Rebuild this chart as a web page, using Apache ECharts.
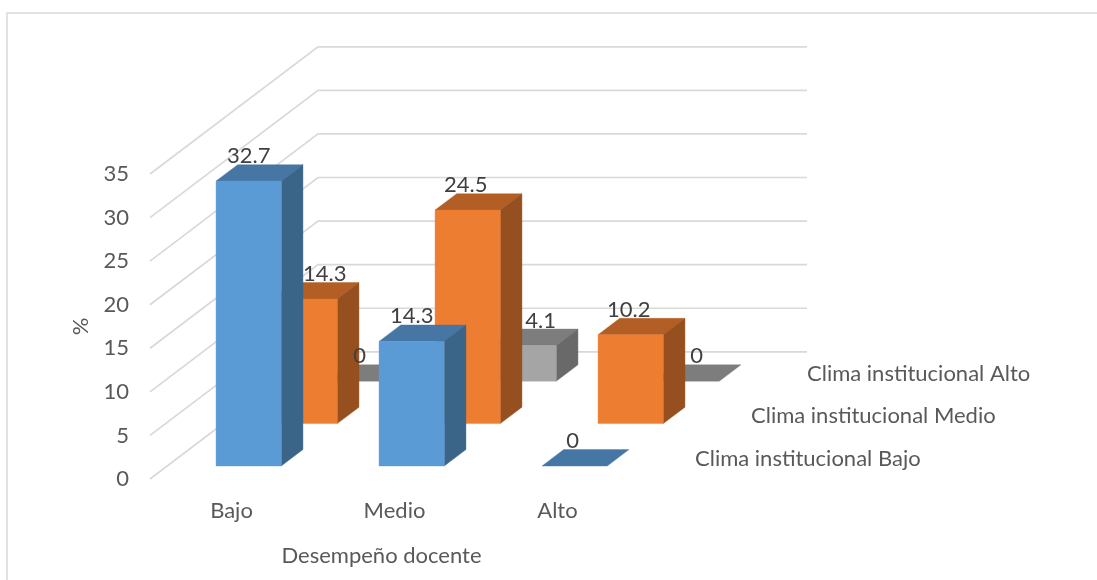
<!DOCTYPE html>
<html>
<head>
<meta charset="utf-8">
<style>html,body{margin:0;padding:0;background:#fff}#c{width:1097px;height:580px}</style>
<script src="https://cdn.jsdelivr.net/npm/echarts@6/dist/echarts.min.js"></script>
</head>
<body>
<div id="c"></div>
<script>
const categories = ['Bajo', 'Medio', 'Alto'];
const climaBajo = [32.7, 14.3, 0];
const climaMedio = [14.3, 24.5, 10.2];
const climaAlto = [0, 4.1, 0];
const depthNames = ['Clima institucional Bajo', 'Clima institucional Medio', 'Clima institucional Alto'];
const yTicks = [0, 5, 10, 15, 20, 25, 30, 35];

// Layout and style
const FONT = 'Lato';
const FS = 22;
const SLOT_DX = 56, SLOT_DY = 42.4, BAR_DEPTH = 21.7, BAR_RISE = 16.4;
const GAP_DX = (SLOT_DX - BAR_DEPTH) / 2, GAP_DY = (SLOT_DY - BAR_RISE) / 2;
const labelShift = [[0, 0, -2], [20, -2, -2], [-1, 17, 10]];
const palette = [
  {front: '#5B9BD5', top: '#4676A3', side: '#3A6589'},
  {front: '#ED7D31', top: '#B25E25', side: '#964F1E'},
  {front: '#A5A5A5', top: '#7D7D7D', side: '#696969'}
];

function polygon(points, fill) {
  return {type: 'polygon', shape: {points}, style: {fill, stroke: fill, lineWidth: 0.4}};
}
function barFrame(api, cat, value, slot) {
  const base = api.coord([cat, 0]);
  const top = api.coord([cat, value]);
  const band = api.size([1, 0])[0];
  const w = band * 0.4;
  const dx = GAP_DX + SLOT_DX * slot, dy = GAP_DY + SLOT_DY * slot;
  return {x0: base[0] - w / 2 + dx, x1: base[0] + w / 2 + dx, yb: base[1] - dy, yt: top[1] - dy};
}
function barSeries(name, values, slot) {
  return {
    type: 'custom', name, z: 3, silent: true,
    data: values.map((v, i) => [i, v]),
    encode: {x: 0, y: 1},
    renderItem(params, api) {
      const f = barFrame(api, api.value(0), api.value(1), slot);
      const c = palette[slot];
      const children = [
        polygon([[f.x0, f.yt], [f.x0 + BAR_DEPTH, f.yt - BAR_RISE], [f.x1 + BAR_DEPTH, f.yt - BAR_RISE], [f.x1, f.yt]], c.top)
      ];
      if (f.yb - f.yt > 0.5) {
        children.push(polygon([[f.x1, f.yt], [f.x1 + BAR_DEPTH, f.yt - BAR_RISE], [f.x1 + BAR_DEPTH, f.yb - BAR_RISE], [f.x1, f.yb]], c.side));
        children.push(polygon([[f.x0, f.yt], [f.x1, f.yt], [f.x1, f.yb], [f.x0, f.yb]], c.front));
      }
      return {type: 'group', children};
    }
  };
}

const seriesValues = [climaBajo, climaMedio, climaAlto];

const wallSeries = {
  type: 'custom', name: 'walls', z: 1, silent: true,
  data: yTicks.map(v => [0, v]),
  encode: {y: 1},
  renderItem(params, api) {
    const cs = params.coordSys;
    const y = api.coord([0, api.value(1)])[1];
    const dx = SLOT_DX * 3, dy = SLOT_DY * 3;
    return {
      type: 'polyline',
      shape: {points: [[cs.x, y], [cs.x + dx, y - dy], [cs.x + cs.width + dx, y - dy]]},
      style: {fill: 'none', stroke: '#D9D9D9', lineWidth: 1.7}
    };
  }
};

const labelSeries = {
  type: 'custom', name: 'value labels', z: 5, silent: true,
  data: seriesValues.flatMap((vals, s) => vals.map((v, c) => [c, v, s])),
  encode: {x: 0, y: 1},
  renderItem(params, api) {
    const cat = api.value(0), v = api.value(1), s = api.value(2);
    const f = barFrame(api, cat, v, s);
    return {
      type: 'text',
      style: {
        text: String(v), x: (f.x0 + f.x1) / 2 + labelShift[s][cat], y: f.yt - 25,
        align: 'center', verticalAlign: 'middle',
        fill: '#404040', font: FS + 'px ' + FONT
      }
    };
  }
};

const depthSeries = {
  type: 'custom', name: 'depth axis', z: 5, silent: true,
  data: depthNames.map((n, i) => [i, 0]),
  encode: {y: 1},
  renderItem(params, api) {
    const cs = params.coordSys;
    const i = api.value(0);
    const y0 = api.coord([0, 0])[1];
    return {
      type: 'text',
      style: {
        text: depthNames[i], x: cs.x + cs.width + SLOT_DX * (i + 1), y: y0 - SLOT_DY * (i + 0.5) + 1,
        align: 'left', verticalAlign: 'middle',
        fill: '#595959', font: FS + 'px ' + FONT
      }
    };
  }
};

const chart = echarts.init(document.getElementById('c'), null, {renderer: 'canvas'});
chart.setOption({
  animation: false,
  backgroundColor: '#fff',
  textStyle: {fontFamily: FONT},
  grid: {left: 150, top: 174, width: 489, height: 305, containLabel: false},
  graphic: [{
    type: 'polyline', silent: true, z: 0,
    shape: {points: [[7, 585], [7, 13], [1097, 13]]},
    style: {fill: 'none', stroke: '#D9D9D9', lineWidth: 1.5}
  }],
  xAxis: {
    type: 'category', data: categories,
    axisLine: {show: false}, axisTick: {show: false}, splitLine: {show: false},
    axisLabel: {color: '#595959', fontSize: FS, fontFamily: FONT, margin: 21},
    name: 'Desempeño docente', nameLocation: 'middle', nameGap: 66,
    nameTextStyle: {color: '#595959', fontSize: FS, fontFamily: FONT, padding: [0, 26, 0, 0]}
  },
  yAxis: {
    type: 'value', min: 0, max: 35, interval: 5,
    axisLine: {show: false}, axisTick: {show: false}, splitLine: {show: false},
    axisLabel: {color: '#595959', fontSize: FS, fontFamily: FONT, margin: 21, padding: [3, 0, 0, 0],
      formatter: v => yTicks.includes(v) ? String(v) : ''},
    name: '%', nameLocation: 'middle', nameGap: 58,
    nameTextStyle: {color: '#595959', fontSize: FS, fontFamily: FONT}
  },
  series: [
    wallSeries,
    barSeries(depthNames[2], climaAlto, 2),
    barSeries(depthNames[1], climaMedio, 1),
    barSeries(depthNames[0], climaBajo, 0),
    labelSeries,
    depthSeries
  ]
});
</script>
</body>
</html>
